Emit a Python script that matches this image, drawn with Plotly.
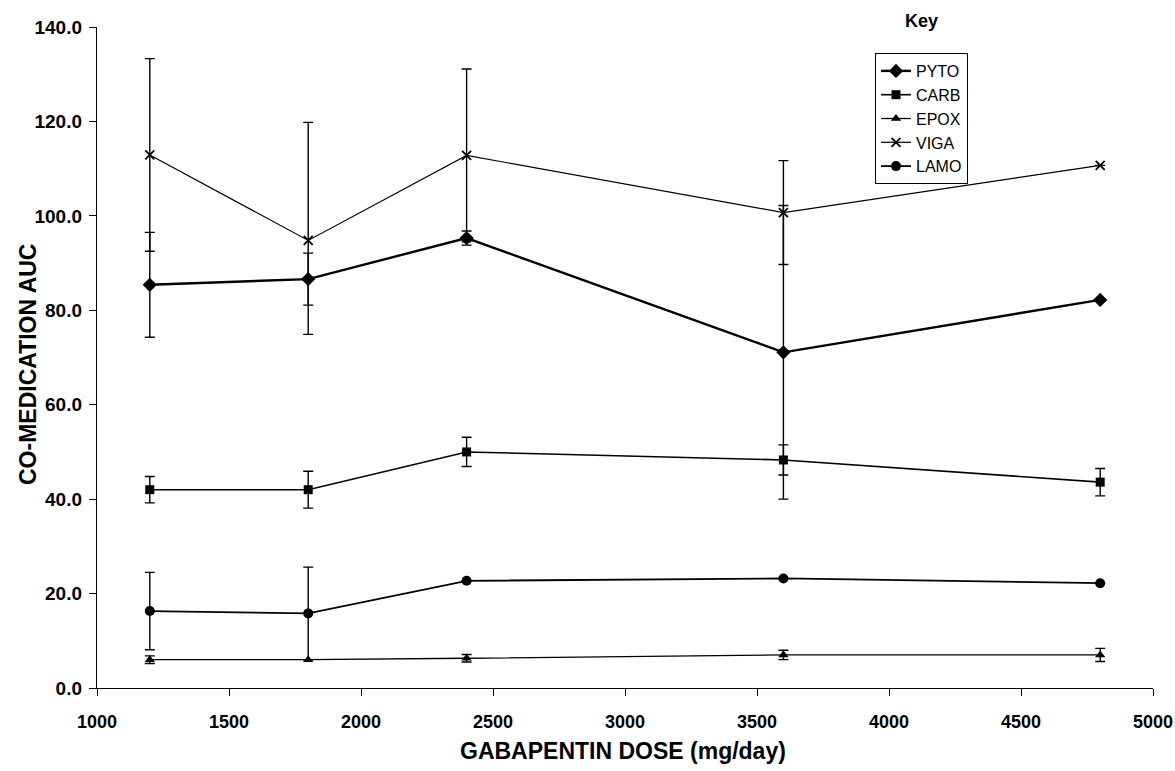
import plotly.graph_objects as go

dose = [1200, 1800, 2400, 3600, 4800]

series_names = ["PYTO", "CARB", "EPOX", "VIGA", "LAMO"]
pyto = [85.4, 86.6, 95.3, 71.1, 82.2]
pyto_err = [11.1, 5.5, 1.5, 31.1, 0.0]
carb = [42.0, 42.0, 50.0, 48.3, 43.6]
carb_err = [2.8, 3.9, 3.1, 3.2, 2.9]
epox = [6.0, 6.0, 6.3, 7.0, 7.0]
epox_err = [0.8, 0.0, 0.8, 1.0, 1.4]
viga = [112.9, 94.8, 112.8, 100.7, 110.7]
viga_err_plus = [20.4, 25.0, 18.3, 11.0, 0.0]
viga_err_minus = [20.4, 19.9, 18.3, 11.0, 0.0]
lamo = [16.3, 15.8, 22.7, 23.2, 22.2]
lamo_err = [8.2, 9.8, 0.0, 0.0, 0.0]

values = [pyto, carb, epox, viga, lamo]
errors_plus = [pyto_err, carb_err, epox_err, viga_err_plus, lamo_err]
errors_minus = [pyto_err, carb_err, epox_err, viga_err_minus, lamo_err]
symbols = ["diamond", "square", "triangle-up", "x-thin", "circle"]
msizes = [11, 9, 9, 9, 10]
lwidths = [2.4, 1.6, 1.3, 1.2, 1.8]

y_ticks = [0, 20, 40, 60, 80, 100, 120, 140]
x_ticks = [1000, 1500, 2000, 2500, 3000, 3500, 4000, 4500, 5000]

L, R, T, B = 97, 22, 27, 83
PW, PH = 1175 - L - R, 771 - T - B

fig = go.Figure()
for name, vals, ep, em, sym, ms, lw in zip(series_names, values, errors_plus, errors_minus,
                                             symbols, msizes, lwidths):
    fig.add_trace(go.Scatter(
        x=dose, y=vals, name=name, mode="lines+markers",
        legendgroup=name,
        line=dict(color="black", width=lw),
        marker=dict(symbol=sym, size=ms, color="black",
                    line=dict(color="black", width=1.8 if sym == "x-thin" else 0)),
        error_y=dict(type="data", symmetric=False, array=ep, arrayminus=em, visible=True,
                     color="black", thickness=1.4, width=5),
    ))

fig.update_layout(
    width=1175, height=771,
    margin=dict(l=L, r=R, t=T, b=B, autoexpand=False),
    paper_bgcolor="white", plot_bgcolor="white",
    font=dict(family="Liberation Sans, Arial, sans-serif", color="black"),
    showlegend=True,
    legend=dict(
        x=(875 - L) / PW, y=(688 - 53) / PH, xanchor="left", yanchor="top",
        bordercolor="black", borderwidth=1, bgcolor="white",
        font=dict(size=16, family="Liberation Sans, Arial"),
        itemwidth=30, tracegroupgap=7,
        traceorder="normal",
    ),
    annotations=[
        dict(text="Key", x=(921 - L) / PW, y=(688 - 21) / PH, xref="paper", yref="paper",
             showarrow=False, xanchor="center", yanchor="middle",
             font=dict(size=18, weight="bold")),
        dict(text="CO-MEDICATION AUC", x=(28 - L) / PW, y=(688 - 365) / PH,
             xref="paper", yref="paper", showarrow=False, textangle=-90,
             xanchor="center", yanchor="middle", font=dict(size=23, weight="bold")),
        dict(text="GABAPENTIN DOSE (mg/day)", x=(623 - L) / PW, y=(688 - 751) / PH,
             xref="paper", yref="paper", showarrow=False,
             xanchor="center", yanchor="middle", font=dict(size=23, weight="bold")),
    ],
)

fig.update_xaxes(
    range=[1000, 5000], tickvals=x_ticks, ticktext=[str(t) for t in x_ticks],
    automargin=False,
    showgrid=False, zeroline=False, showline=True, linecolor="black", linewidth=1.4,
    ticks="outside", ticklen=7, tickcolor="black", tickwidth=1.4,
    tickfont=dict(size=18, weight="bold"), ticklabelstandoff=10,
)
fig.update_yaxes(
    range=[0, 140], tickvals=y_ticks, ticktext=[f"{t:.1f}" for t in y_ticks],
    automargin=False,
    showgrid=False, zeroline=False, showline=True, linecolor="black", linewidth=1.4,
    ticks="outside", ticklen=7, tickcolor="black", tickwidth=1.4,
    tickfont=dict(size=19, weight="bold"), ticklabelstandoff=3,
)

fig.write_html("out.html")
